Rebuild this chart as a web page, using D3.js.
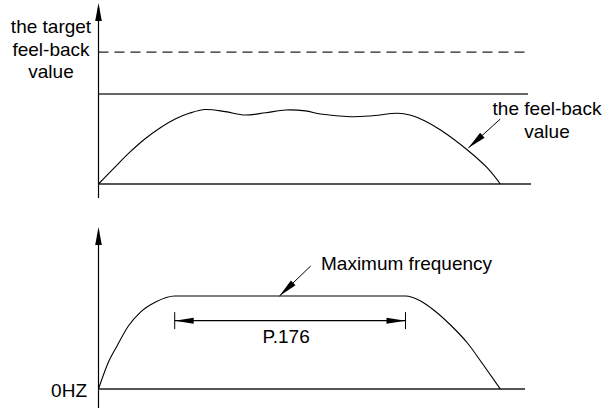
<!DOCTYPE html>
<html><head><meta charset="utf-8">
<script src="https://cdn.jsdelivr.net/npm/d3@7"></script>
<style>
html,body{margin:0;padding:0;background:#fff;}
svg{display:block;font-family:"Liberation Sans",Arial,sans-serif;}
</style></head>
<body>
<script>
// ---- data ----
// top panel: feedback value over time
const fbTime  = [0, 3.8, 7.3, 10.7, 14.2, 17.7, 21.1, 24.6, 29.3, 33.9, 38.6, 43.2, 47.8, 51.3, 58.2, 62.8, 69.1, 71.9, 75.4, 79.0, 85.2, 89.8, 92.8];
const fbValue = [0, 9.4, 17.8, 25.0, 31.1, 36.1, 39.4, 41.4, 40.2, 38.3, 39.6, 41.1, 40.6, 38.9, 37.4, 37.8, 39.3, 38.3, 35.0, 30.0, 18.9, 8.9, 0];
const targetValue = 73.3;
const limitValue = 50;
const topLabels = ["the target", "feel-back", "value"];
const fbLabels = ["the feel-back", "value"];
// bottom panel: output frequency over time
const fqTime  = [0, 2.3, 4.4, 6.9, 9.7, 13.2, 17.6, 70.9, 74.4, 77.4, 81.3, 85.2, 88.9, 92.8];
const fqValue = [0, 16.7, 27.2, 38.9, 47.5, 53.7, 57.4, 57.4, 54.3, 48.8, 39.5, 28.4, 14.8, 0];
const dimSpan = [17.6, 70.9];
const dimLabel = "P.176";
const maxLabel = "Maximum frequency";
const zeroLabel = "0HZ";

const W = 602, H = 408;
const svg = d3.select("body").append("svg").attr("width", W).attr("height", H);

const x = d3.scaleLinear().domain([0, 100]).range([98.5, 531.5]);
const yT = d3.scaleLinear().domain([0, 100]).range([184, 4]);
const yB = d3.scaleLinear().domain([0, 100]).range([389, 227]);

function arrowHead(g, tipX, tipY, fromX, fromY, len, half) {
  const dx = fromX - tipX, dy = fromY - tipY;
  const d = Math.hypot(dx, dy), ux = dx / d, uy = dy / d;
  const bx = tipX + ux * len, by = tipY + uy * len;
  g.append("path")
    .attr("d", `M${tipX},${tipY}L${bx - uy * half},${by + ux * half}L${bx + uy * half},${by - ux * half}Z`)
    .attr("fill", "#000");
}

// ---------- TOP PANEL ----------
const gTop = svg.append("g");
gTop.append("line").attr("x1", x(0)).attr("x2", x(0)).attr("y1", 8).attr("y2", 198)
  .attr("stroke", "#000").attr("stroke-width", 1.2);
arrowHead(gTop, x(0), 3, x(0), 40, 18, 3.3);
gTop.append("line").attr("x1", x(0)).attr("x2", 528).attr("y1", yT(targetValue)).attr("y2", yT(targetValue))
  .attr("stroke", "#222").attr("stroke-width", 1.2).attr("stroke-dasharray", "10,6");
gTop.append("line").attr("x1", x(0)).attr("x2", 528).attr("y1", yT(limitValue)).attr("y2", yT(limitValue))
  .attr("stroke", "#333").attr("stroke-width", 1.5);
gTop.append("line").attr("x1", x(0)).attr("x2", 531).attr("y1", yT(0)).attr("y2", yT(0))
  .attr("stroke", "#555").attr("stroke-width", 1.8);
const lineT = d3.line().x((d, i) => x(fbTime[i])).y((d, i) => yT(fbValue[i])).curve(d3.curveCatmullRom.alpha(0.5));
gTop.append("path").datum(fbTime).attr("d", lineT).attr("fill", "none").attr("stroke", "#000").attr("stroke-width", 1.1);
topLabels.forEach((t, i) => {
  gTop.append("text").attr("x", 51).attr("y", 33 + i * 22.5).attr("text-anchor", "middle")
    .attr("font-size", 19).text(t);
});
const tipT = [x(85.4), yT(20)], endT = [x(92.8), yT(36.1)];
gTop.append("line").attr("x1", tipT[0]).attr("y1", tipT[1]).attr("x2", endT[0]).attr("y2", endT[1])
  .attr("stroke", "#000").attr("stroke-width", 1);
arrowHead(gTop, tipT[0], tipT[1], endT[0], endT[1], 19, 3.3);
fbLabels.forEach((t, i) => {
  gTop.append("text").attr("x", 547).attr("y", 115 + i * 23).attr("text-anchor", "middle")
    .attr("font-size", 19).text(t);
});

// ---------- BOTTOM PANEL ----------
const gBot = svg.append("g");
gBot.append("line").attr("x1", x(0)).attr("x2", x(0)).attr("y1", 235).attr("y2", 408)
  .attr("stroke", "#000").attr("stroke-width", 1.2);
arrowHead(gBot, x(0), 227, x(0), 260, 18, 3.3);
gBot.append("line").attr("x1", x(0)).attr("x2", 525).attr("y1", yB(0)).attr("y2", yB(0))
  .attr("stroke", "#555").attr("stroke-width", 1.8);
const lineB = d3.line().x((d, i) => x(fqTime[i])).y((d, i) => yB(fqValue[i])).curve(d3.curveMonotoneX);
gBot.append("path").datum(fqTime).attr("d", lineB).attr("fill", "none").attr("stroke", "#000").attr("stroke-width", 1.1);
const dimY = yB(42.2);
const dx0 = x(dimSpan[0]), dx1 = x(dimSpan[1]);
gBot.append("line").attr("x1", dx0).attr("x2", dx1).attr("y1", dimY).attr("y2", dimY)
  .attr("stroke", "#000").attr("stroke-width", 1.1);
[dx0, dx1].forEach(xx => {
  gBot.append("line").attr("x1", xx).attr("x2", xx).attr("y1", dimY - 8.5).attr("y2", dimY + 8.5)
    .attr("stroke", "#000").attr("stroke-width", 1);
});
arrowHead(gBot, dx0, dimY, dx1, dimY, 19, 3);
arrowHead(gBot, dx1, dimY, dx0, dimY, 19, 3);
gBot.append("text").attr("x", (dx0 + dx1) / 2 - 4).attr("y", 343).attr("text-anchor", "middle")
  .attr("font-size", 19).text(dimLabel);
const tipB = [x(41.8), yB(57.4)], endB = [x(49), yB(75.9)];
gBot.append("line").attr("x1", tipB[0]).attr("y1", tipB[1]).attr("x2", endB[0]).attr("y2", endB[1])
  .attr("stroke", "#000").attr("stroke-width", 1);
arrowHead(gBot, tipB[0], tipB[1], endB[0], endB[1], 19, 3.3);
gBot.append("text").attr("x", 321).attr("y", 270).attr("font-size", 19).text(maxLabel);
gBot.append("text").attr("x", 87).attr("y", 397).attr("text-anchor", "end").attr("font-size", 19).text(zeroLabel);
</script>
</body></html>
